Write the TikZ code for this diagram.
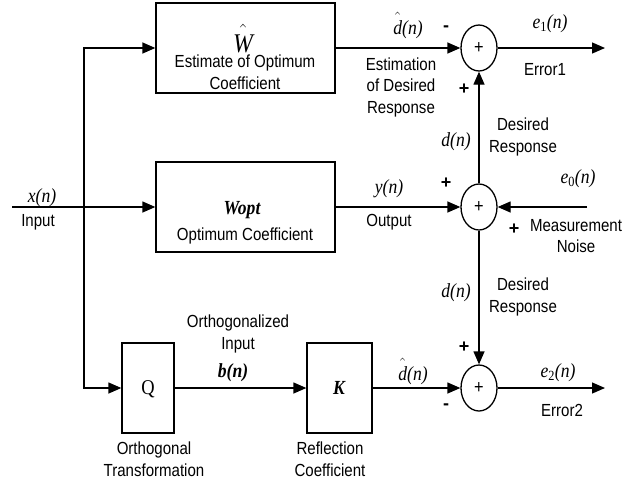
\documentclass[tikz,border=0pt]{standalone}
\usepackage{amsmath}
\usepackage{fontspec}
\setmainfont{Liberation Serif}
\setsansfont{Liberation Sans}[FakeStretch=0.86]
\newfontfamily\plainsans{Liberation Sans}
\newfontfamily\tallserif{Liberation Serif}[FakeStretch=0.88]
\usetikzlibrary{arrows.meta,shapes.geometric}
\newcommand\hatit[1]{$\hat{\text{\raisebox{0pt}[1.2\height]{#1}}}$}
\newcommand\sbs[1]{\textsubscript{\upshape #1}}
\begin{document}
\begin{tikzpicture}[x=1pt,y=-1pt,
  box/.style={draw,line width=1.3pt,inner sep=0pt},
  sumnode/.style={draw,ellipse,line width=1.3pt,inner sep=0pt,minimum width=36pt,minimum height=46pt,font=\sffamily\fontsize{19}{20}\selectfont},
  arr/.style={line width=1.3pt,-{Triangle[length=13pt,width=11pt]}},
  lab/.style={inner sep=0pt,align=center,font=\sffamily\fontsize{17.5}{21.5}\selectfont},
  mth/.style={inner sep=0pt,anchor=base,font=\tallserif\itshape\fontsize{20}{22}\selectfont},
  bmth/.style={mth,font=\tallserif\bfseries\itshape\fontsize{20}{22}\selectfont},
  sgn/.style={inner sep=0pt,font=\plainsans\bfseries\fontsize{18}{18}\selectfont}]
\useasboundingbox (0,0) rectangle (634,482);
% blocks
\node[box,minimum width=179pt,minimum height=90pt] (top) at (245.5,48) {};
\node[box,minimum width=179pt,minimum height=90pt] (mid) at (245.5,207) {};
\node[box,minimum width=52pt,minimum height=90pt] (Q) at (148,388) {};
\node[box,minimum width=65pt,minimum height=90pt] (K) at (339.5,388) {};
% summing junctions
\node[sumnode] (s1) at (479,48) {+};
\node[sumnode] (s2) at (479,207) {+};
\node[sumnode] (s3) at (479,388) {+};
% coordinates
\coordinate (xin) at (12,207);
\coordinate (split) at (84,207);
\coordinate (e1end) at (605,48);
\coordinate (e2end) at (605,388);
\coordinate (noise) at (587,207);
% connectors
\draw[arr] (xin) -- (mid.west);
\draw[arr] (split) |- (top.west);
\draw[arr] (split) |- (Q.west);
\draw[arr] (top.east) -- (s1.west);
\draw[arr] (s1.east) -- (e1end);
\draw[arr] (mid.east) -- (s2.west);
\draw[arr] (noise) -- (s2.east);
\draw[arr] (s2.north) -- (s1.south);
\draw[arr] (s2.south) -- (s3.north);
\draw[arr] (Q.east) -- (K.west);
\draw[arr] (K.east) -- (s3.west);
\draw[arr] (s3.east) -- (e2end);
% texts in blocks
\node[mth,font=\tallserif\itshape\fontsize{27}{28}\selectfont] (what) at (243,52) {\hatit{W}};
\node[lab] (estopt) at (245,72) {Estimate of Optimum\\Coefficient};
\node[bmth] (wopt) at (242,214) {Wopt};
\node[lab] (optc) at (245,236) {Optimum Coefficient};
\node[inner sep=0pt,font=\tallserif\fontsize{21}{22}\selectfont] (qt) at (148,389) {Q};
\node[inner sep=0pt,font=\tallserif\bfseries\itshape\fontsize{20}{22}\selectfont] (kt) at (339,388) {K};
% top row labels
\node[mth] (dhat1) at (408,34) {\hatit{d}(n)};
\node[sgn] (m1) at (446,29) {-};
\node[mth] (e1) at (550,28) {e\sbs{1}(n)};
\node[lab] (err1) at (545,70) {Error1};
\node[lab] (estd) at (401,87) {Estimation\\of Desired\\Response};
\node[sgn] (p1) at (464,89) {+};
\node[mth] (d1) at (456,146) {d(n)};
\node[lab] (dr1) at (523,137) {Desired\\Response};
% middle row labels
\node[mth] (xn) at (42,202) {x(n)};
\node[lab] (inp) at (38,222) {Input};
\node[sgn] (p2) at (446,183) {+};
\node[mth] (yn) at (389,193) {y(n)};
\node[lab] (outp) at (389,222) {Output};
\node[mth] (e0) at (578,183) {e\sbs{0}(n)};
\node[sgn] (p3) at (514,229) {+};
\node[lab] (mn) at (576,236) {Measurement\\Noise};
\node[mth] (d2) at (456,297) {d(n)};
\node[lab] (dr2) at (523,297) {Desired\\Response};
% bottom row labels
\node[lab] (orthin) at (238,334) {Orthogonalized\\Input};
\node[bmth] (bn) at (233,377) {b(n)};
\node[lab] (orth) at (154,459) {Orthogonal\\Transformation};
\node[lab] (refl) at (330,459) {Reflection\\Coefficient};
\node[sgn] (p4) at (464,347) {+};
\node[mth] (dhat2) at (413,380) {\hatit{d}(n)};
\node[sgn] (m2) at (446,407) {-};
\node[mth] (e2) at (558,377) {e\sbs{2}(n)};
\node[lab] (err2) at (562,410) {Error2};
\end{tikzpicture}
\end{document}
